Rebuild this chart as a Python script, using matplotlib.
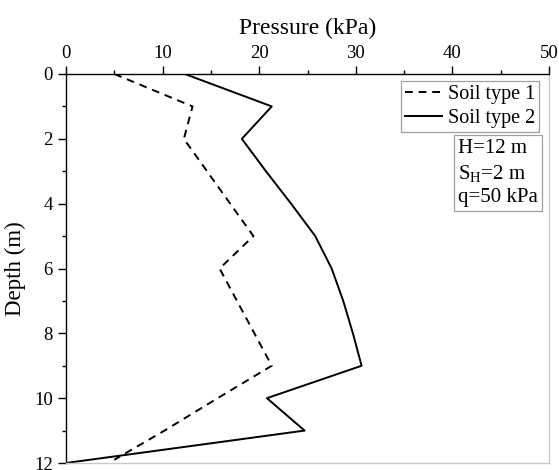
import matplotlib
matplotlib.use("Agg")
import matplotlib.pyplot as plt
from matplotlib.ticker import MultipleLocator

plt.rcParams['font.family'] = ['Liberation Serif', 'DejaVu Serif']
plt.rcParams['mathtext.fontset'] = 'custom'
plt.rcParams['mathtext.rm'] = 'Liberation Serif'
plt.rcParams['mathtext.it'] = 'Liberation Serif:italic'

# lateral pressure profiles along the wall depth
depth = [0, 1, 2, 3, 4, 5, 6, 7, 8, 9, 10, 11, 12]
depth_soil1 = [0, 1, 2, 3, 4, 5, 6, 7, 8, 9, 10, 11, 11.9]
pressure_soil1 = [5.0, 13.1, 12.2, 14.6, 17.0, 19.4, 15.9, 17.7, 19.5, 21.3, 15.7, 10.2, 5.0]
pressure_soil2 = [12.3, 21.3, 18.2, 20.7, 23.3, 25.8, 27.5, 28.7, 29.7, 30.6, 20.8, 24.7, 0.0]

labels = ['Soil type 1', 'Soil type 2']
info_lines = ['H=12 m', r'S$_\mathrm{H}$=2 m', 'q=50 kPa']

fig = plt.figure(figsize=(5.59, 4.70), dpi=100)
ax = fig.add_axes([66/559, 1 - 463/470, (549 - 66)/559, (463 - 74)/470])

ax.plot(pressure_soil1, depth_soil1, color='black', lw=1.4, linestyle=(0, (4, 3)), label=labels[0])
ax.plot(pressure_soil2, depth, color='black', lw=1.4, label=labels[1])

ax.set_xlim(0, 50)
ax.set_ylim(12, 0)
ax.xaxis.set_major_locator(MultipleLocator(10))
ax.xaxis.set_minor_locator(MultipleLocator(5))
ax.yaxis.set_major_locator(MultipleLocator(2))
ax.yaxis.set_minor_locator(MultipleLocator(1))
ax.xaxis.tick_top()
ax.xaxis.set_label_position('top')
ax.tick_params(which='both', direction='out', width=1.0, labelsize=13.5)
ax.tick_params(which='major', length=5.5)
ax.tick_params(which='minor', length=3)
ax.tick_params(axis='x', pad=3)
ax.tick_params(axis='y', pad=4)

for side in ['left', 'top']:
    ax.spines[side].set_color('black')
    ax.spines[side].set_linewidth(1.0)
for side in ['right', 'bottom']:
    ax.spines[side].set_color('#c8c8c8')
    ax.spines[side].set_linewidth(1.0)

ax.set_xlabel('Pressure (kPa)', fontsize=17, labelpad=8)
ax.set_ylabel('Depth (m)', fontsize=16.5, labelpad=6)

leg = ax.legend(loc='upper right', bbox_to_anchor=(539/559, 1 - 81/470),
                bbox_transform=fig.transFigure, borderaxespad=0, fontsize=14.5,
                fancybox=False, framealpha=1, edgecolor='#a0a0a0',
                handlelength=1.8, handletextpad=0.3, borderpad=0.2,
                labelspacing=0.25)
leg.get_frame().set_linewidth(0.9)

ax.text(458/559, 1 - 139/470, '\n'.join(info_lines), transform=fig.transFigure,
        ha='left', va='top', fontsize=15, linespacing=1.3,
        bbox=dict(boxstyle='square,pad=0.2', fc='white', ec='#a0a0a0', lw=0.9))

fig.savefig('out.png', dpi=100)
